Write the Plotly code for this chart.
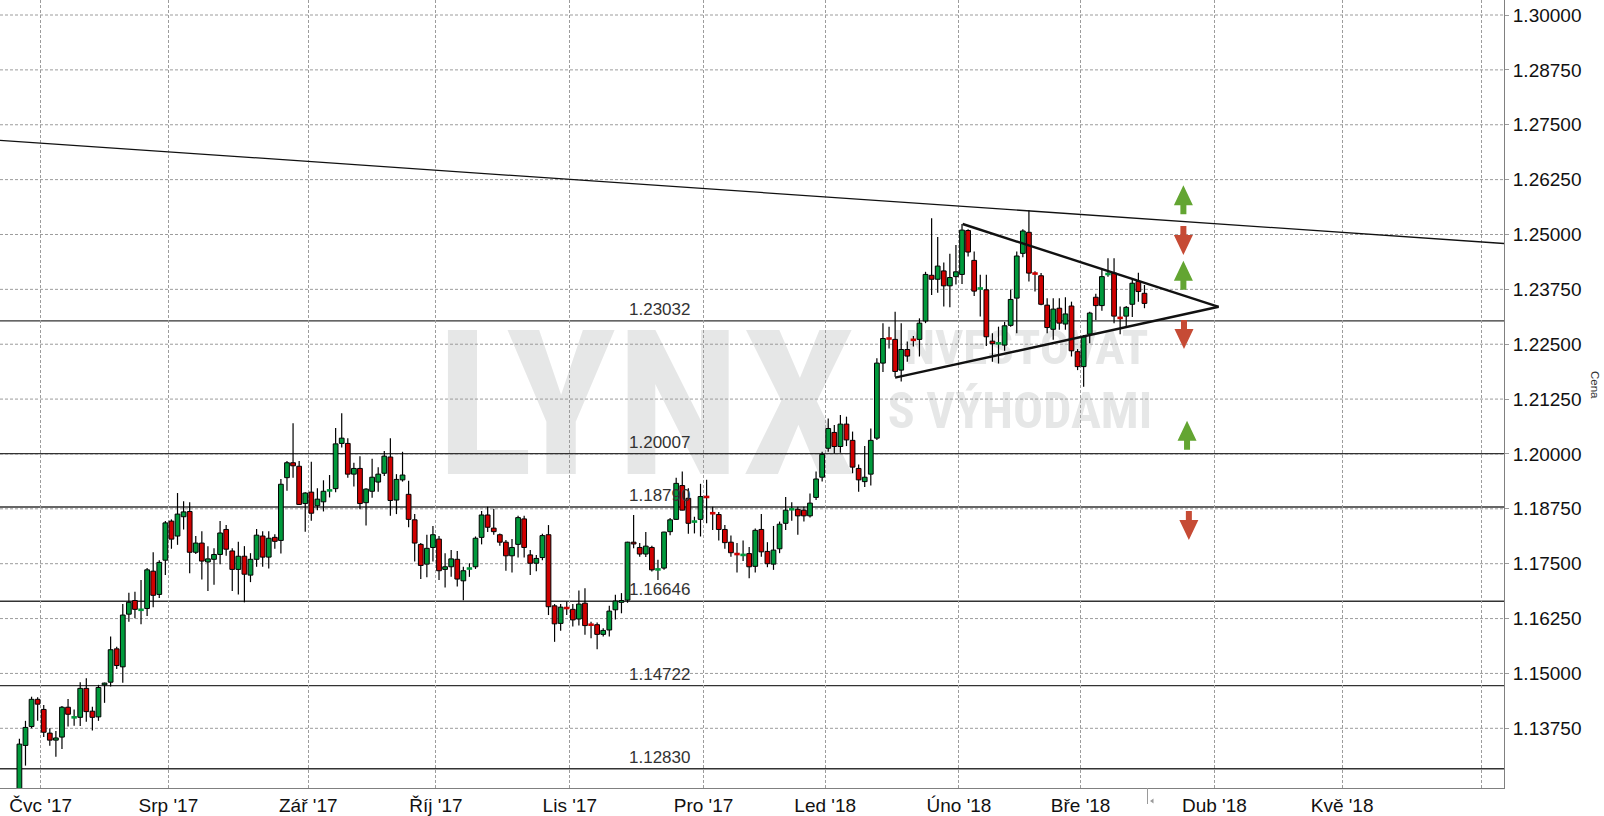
import numpy as np
import pandas as pd
import plotly.graph_objects as go

# ---------------- data (EUR/USD daily) ----------------
opens = [1.1182, 1.1336, 1.1379, 1.1441, 1.1418, 1.1364, 1.1348, 1.1355, 1.1423, 1.1399,
         1.1400, 1.1466, 1.1414, 1.1401, 1.1474, 1.1480, 1.1556, 1.1515, 1.1635, 1.1666,
         1.1644, 1.1648, 1.1733, 1.1680, 1.1758, 1.1847, 1.1813, 1.1857, 1.1869, 1.1776,
         1.1797, 1.1754, 1.1760, 1.1771, 1.1828, 1.1779, 1.1737, 1.1767, 1.1724, 1.1760,
         1.1813, 1.1765, 1.1810, 1.1803, 1.1946, 1.1980, 1.1972, 1.1887, 1.1913, 1.1882,
         1.1891, 1.1915, 1.1921, 1.2024, 1.2024, 1.1954, 1.1967, 1.1889, 1.1915, 1.1936,
         1.1956, 1.1993, 1.1895, 1.1941, 1.1908, 1.1850, 1.1794, 1.1749, 1.1787, 1.1806,
         1.1737, 1.1743, 1.1760, 1.1711, 1.1737, 1.1743, 1.1810, 1.1861, 1.1831, 1.1816,
         1.1799, 1.1768, 1.1794, 1.1852, 1.1770, 1.1751, 1.1764, 1.1816, 1.1654, 1.1614,
         1.1650, 1.1646, 1.1624, 1.1660, 1.1612, 1.1611, 1.1589, 1.1599, 1.1645, 1.1662,
         1.1667, 1.1799, 1.1787, 1.1772, 1.1787, 1.1736, 1.1740, 1.1823, 1.1851, 1.1928,
         1.1899, 1.1844, 1.1851, 1.1904, 1.1867, 1.1862, 1.1828, 1.1799, 1.1774, 1.1768,
         1.1773, 1.1744, 1.1828, 1.1778, 1.1749, 1.1784, 1.1842, 1.1872, 1.1874, 1.1872,
         1.1859, 1.1901, 1.1947, 1.2013, 1.2049, 1.2017, 1.2068, 1.2031, 1.1967, 1.1937,
         1.1954, 1.2036, 1.2207, 1.2265, 1.2261, 1.2191, 1.2238, 1.2262, 1.2261, 1.2303,
         1.2407, 1.2398, 1.2417, 1.2383, 1.2404, 1.2409, 1.2509, 1.2441, 1.2375, 1.2374,
         1.2257, 1.2251, 1.2248, 1.2293, 1.2355, 1.2457, 1.2505, 1.2412, 1.2406, 1.2339,
         1.2284, 1.2332, 1.2296, 1.2337, 1.2233, 1.2199, 1.2273, 1.2357, 1.2338, 1.2408,
         1.2412, 1.2311, 1.2314, 1.2341, 1.2393, 1.2366]
highs = [1.1351, 1.1392, 1.1447, 1.1446, 1.1428, 1.1375, 1.1369, 1.1426, 1.1442, 1.1418,
         1.1480, 1.1489, 1.1424, 1.1474, 1.1479, 1.1584, 1.1561, 1.1658, 1.1684, 1.1686,
         1.1713, 1.1740, 1.1776, 1.1758, 1.1847, 1.1851, 1.1911, 1.1892, 1.1890, 1.1813,
         1.1824, 1.1790, 1.1785, 1.1847, 1.1838, 1.1785, 1.1800, 1.1790, 1.1774, 1.1829,
         1.1824, 1.1824, 1.1817, 1.1943, 1.1984, 1.2070, 1.1984, 1.1913, 1.1982, 1.1922,
         1.1940, 1.1952, 1.2059, 1.2093, 1.2036, 1.1980, 1.1995, 1.1922, 1.1989, 1.1970,
         1.2007, 1.2036, 1.1954, 1.2005, 1.1939, 1.1863, 1.1797, 1.1816, 1.1836, 1.1813,
         1.1774, 1.1781, 1.1779, 1.1743, 1.1751, 1.1812, 1.1870, 1.1880, 1.1875, 1.1819,
         1.1804, 1.1806, 1.1859, 1.1859, 1.1781, 1.1770, 1.1818, 1.1838, 1.1658, 1.1658,
         1.1664, 1.1658, 1.1689, 1.1694, 1.1618, 1.1616, 1.1603, 1.1654, 1.1679, 1.1683,
         1.1800, 1.1861, 1.1797, 1.1822, 1.1791, 1.1759, 1.1823, 1.1854, 1.1946, 1.1960,
         1.1922, 1.1857, 1.1932, 1.1941, 1.1880, 1.1868, 1.1838, 1.1814, 1.1797, 1.1803,
         1.1788, 1.1830, 1.1863, 1.1799, 1.1836, 1.1846, 1.1902, 1.1890, 1.1880, 1.1880,
         1.1910, 1.1960, 1.2005, 1.2081, 1.2066, 1.2089, 1.2085, 1.2051, 1.1976, 1.2018,
         1.2058, 1.2218, 1.2298, 1.2290, 1.2324, 1.2298, 1.2256, 1.2269, 1.2309, 1.2415,
         1.2537, 1.2494, 1.2436, 1.2456, 1.2476, 1.2524, 1.2512, 1.2461, 1.2408, 1.2408,
         1.2275, 1.2290, 1.2301, 1.2374, 1.2461, 1.2512, 1.2556, 1.2416, 1.2412, 1.2355,
         1.2355, 1.2355, 1.2357, 1.2347, 1.2239, 1.2271, 1.2324, 1.2365, 1.2419, 1.2446,
         1.2446, 1.2336, 1.2337, 1.2400, 1.2413, 1.2385]
lows = [1.1175, 1.1290, 1.1375, 1.1392, 1.1355, 1.1335, 1.1310, 1.1328, 1.1379, 1.1381,
        1.1380, 1.1390, 1.1370, 1.1392, 1.1433, 1.1470, 1.1510, 1.1479, 1.1618, 1.1626,
        1.1612, 1.1631, 1.1651, 1.1672, 1.1724, 1.1784, 1.1793, 1.1828, 1.1728, 1.1772,
        1.1714, 1.1688, 1.1702, 1.1749, 1.1768, 1.1688, 1.1680, 1.1662, 1.1708, 1.1743,
        1.1743, 1.1739, 1.1784, 1.1773, 1.1916, 1.1946, 1.1884, 1.1823, 1.1848, 1.1872,
        1.1869, 1.1901, 1.1913, 1.2015, 1.1946, 1.1926, 1.1874, 1.1837, 1.1900, 1.1914,
        1.1950, 1.1859, 1.1863, 1.1937, 1.1833, 1.1755, 1.1715, 1.1719, 1.1755, 1.1713,
        1.1696, 1.1720, 1.1698, 1.1667, 1.1720, 1.1738, 1.1794, 1.1822, 1.1816, 1.1791,
        1.1734, 1.1730, 1.1764, 1.1764, 1.1724, 1.1733, 1.1758, 1.1633, 1.1572, 1.1597,
        1.1633, 1.1607, 1.1609, 1.1588, 1.1580, 1.1555, 1.1584, 1.1584, 1.1623, 1.1637,
        1.1661, 1.1785, 1.1766, 1.1765, 1.1732, 1.1713, 1.1736, 1.1815, 1.1850, 1.1871,
        1.1818, 1.1819, 1.1812, 1.1842, 1.1827, 1.1803, 1.1784, 1.1766, 1.1730, 1.1756,
        1.1717, 1.1730, 1.1766, 1.1742, 1.1736, 1.1774, 1.1827, 1.1848, 1.1816, 1.1846,
        1.1855, 1.1895, 1.1937, 1.2005, 1.2001, 1.2003, 1.2018, 1.1956, 1.1914, 1.1925,
        1.1928, 1.2032, 1.2187, 1.2240, 1.2176, 1.2165, 1.2210, 1.2245, 1.2222, 1.2298,
        1.2362, 1.2367, 1.2336, 1.2334, 1.2386, 1.2387, 1.2450, 1.2360, 1.2313, 1.2246,
        1.2210, 1.2206, 1.2235, 1.2290, 1.2275, 1.2448, 1.2393, 1.2370, 1.2339, 1.2275,
        1.2260, 1.2283, 1.2283, 1.2222, 1.2191, 1.2153, 1.2252, 1.2305, 1.2326, 1.2404,
        1.2298, 1.2273, 1.2291, 1.2312, 1.2347, 1.2332]
closes = [1.1339, 1.1377, 1.1441, 1.1430, 1.1366, 1.1348, 1.1353, 1.1423, 1.1407, 1.1400,
          1.1466, 1.1413, 1.1400, 1.1468, 1.1478, 1.1554, 1.1518, 1.1633, 1.1662, 1.1646,
          1.1645, 1.1736, 1.1678, 1.1753, 1.1843, 1.1806, 1.1863, 1.1868, 1.1776, 1.1797,
          1.1756, 1.1761, 1.1771, 1.1820, 1.1783, 1.1737, 1.1767, 1.1726, 1.1760, 1.1815,
          1.1765, 1.1808, 1.1801, 1.1931, 1.1980, 1.1973, 1.1885, 1.1911, 1.1865, 1.1897,
          1.1915, 1.1917, 1.2023, 1.2036, 1.1954, 1.1967, 1.1887, 1.1920, 1.1947, 1.1954,
          1.1995, 1.1894, 1.1942, 1.1952, 1.1851, 1.1797, 1.1746, 1.1785, 1.1816, 1.1734,
          1.1743, 1.1761, 1.1715, 1.1734, 1.1739, 1.1808, 1.1861, 1.1833, 1.1823, 1.1799,
          1.1768, 1.1787, 1.1855, 1.1787, 1.1751, 1.1762, 1.1814, 1.1652, 1.1613, 1.1651,
          1.1649, 1.1622, 1.1658, 1.1609, 1.1611, 1.1589, 1.1598, 1.1642, 1.1665, 1.1666,
          1.1799, 1.1795, 1.1772, 1.1790, 1.1736, 1.1737, 1.1822, 1.1850, 1.1933, 1.1872,
          1.1842, 1.1846, 1.1903, 1.1902, 1.1865, 1.1828, 1.1798, 1.1775, 1.1772, 1.1770,
          1.1743, 1.1826, 1.1777, 1.1750, 1.1781, 1.1840, 1.1872, 1.1874, 1.1859, 1.1859,
          1.1888, 1.1943, 1.1999, 1.2058, 1.2017, 1.2068, 1.2032, 1.1970, 1.1941, 1.1947,
          1.2031, 1.2207, 1.2263, 1.2263, 1.2188, 1.2238, 1.2223, 1.2260, 1.2298, 1.2409,
          1.2398, 1.2428, 1.2383, 1.2402, 1.2415, 1.2510, 1.2460, 1.2371, 1.2377, 1.2267,
          1.2251, 1.2252, 1.2292, 1.2352, 1.2451, 1.2508, 1.2412, 1.2411, 1.2341, 1.2288,
          1.2330, 1.2298, 1.2319, 1.2235, 1.2199, 1.2267, 1.2321, 1.2338, 1.2404, 1.2410,
          1.2314, 1.2310, 1.2334, 1.2389, 1.2370, 1.2343]

first_day = "2017-06-27"
last_calendar_day = "2018-06-08"
holidays = ["2017-12-25", "2018-01-01"]
month_labels = ["Čvc '17", "Srp '17", "Zář '17", "Říj '17", "Lis '17", "Pro '17",
                "Led '18", "Úno '18", "Bře '18", "Dub '18", "Kvě '18", ""]
levels = [1.23032, 1.20007, 1.18790, 1.16646, 1.14722, 1.12830]
y_ticks = [1.1375, 1.15, 1.1625, 1.175, 1.1875, 1.2, 1.2125, 1.225,
           1.2375, 1.25, 1.2625, 1.275, 1.2875, 1.3]
# drawn trend lines: (x0 index, price0, x1 index, price1)
trend_long = (-3.19, 1.27146, 244.12, 1.24795)
triangle_upper = (155.1, 1.25239, 197.2, 1.23353)
triangle_lower = (144.0, 1.21738, 197.2, 1.23353)
# signal arrows: (x index, price, direction)
arrows = [(191.4, 1.25793, "up"), (191.4, 1.24863, "down"), (191.4, 1.24071, "up"),
          (191.5, 1.22722, "down"), (192.0, 1.20426, "up"), (192.3, 1.18371, "down")]

# ---------------- derived ----------------
cal = pd.bdate_range(first_day, last_calendar_day)
cal = cal[~cal.isin(pd.to_datetime(holidays))]
n = len(opens)
xs = np.arange(n, dtype=float)
month_start = [i for i in range(1, len(cal)) if cal[i].month != cal[i - 1].month]
tickvals = [m - 0.5 for m in month_start]

o = np.array(opens); h = np.array(highs); l = np.array(lows); c = np.array(closes)
top = np.maximum(o, c); bot = np.minimum(o, c)
doji = np.abs(c - o) < 0.00025
up = c >= o

GREEN = "#009A3C"
RED = "#D00000"
FONT = "Liberation Sans, Arial, Helvetica, sans-serif"
GRID = "#9c9c9c"

fig = go.Figure()

# wicks
wx, wy = [], []
for i in range(n):
    if doji[i]:
        wx += [xs[i], xs[i], None]; wy += [h[i], l[i], None]
    else:
        wx += [xs[i], xs[i], None, xs[i], xs[i], None]
        wy += [h[i], top[i], None, bot[i], l[i], None]
fig.add_trace(go.Scatter(x=wx, y=wy, mode="lines", line=dict(color="black", width=1.2),
                         hoverinfo="skip"))

# bodies
nd = ~doji
fig.add_trace(go.Bar(x=xs[nd], y=(top - bot)[nd], base=bot[nd], width=0.78,
                     marker=dict(color=[GREEN if u else RED for u in up[nd]],
                                 line=dict(color="black", width=1)),
                     hoverinfo="skip"))

# doji dashes
for col, mask in ((GREEN, doji & up), (RED, doji & ~up)):
    dx, dy = [], []
    for i in np.where(mask)[0]:
        dx += [xs[i] - 0.45, xs[i] + 0.45, None]; dy += [c[i], c[i], None]
    fig.add_trace(go.Scatter(x=dx, y=dy, mode="lines", line=dict(color=col, width=2.6),
                             hoverinfo="skip"))

shapes = []
def pxx(v):
    return v / 1504.0
def pxy(v):
    return (788.0 - v) / 788.0

# watermark (below grid)
WM = "#E6E7E7"
WMFONT = "Roboto Condensed, Liberation Sans Narrow, Noto Sans Condensed, DejaVu Sans Condensed, Arial Narrow, Roboto, sans-serif"
for txt, (x0, x1, y0, y1), size in (("LYNX", (436, 856, 305, 475), 203),
                                     ("INVESTOVAT", (880, 1160, 320, 366), 49),
                                     ("S VÝHODAMI", (880, 1160, 381, 433), 50)):
    shapes.append(dict(type="rect", xref="paper", yref="paper", x0=pxx(x0), x1=pxx(x1),
                       y0=pxy(y1), y1=pxy(y0), line=dict(width=0), fillcolor="rgba(0,0,0,0)",
                       layer="below",
                       label=dict(text=txt, textposition="middle center",
                                  font=dict(family=WMFONT, size=size, color=WM, weight="bold"))))

# horizontal price gridlines (dashed), drawn over the watermark
for t in y_ticks:
    shapes.append(dict(type="line", xref="paper", yref="y", x0=0, x1=1, y0=t, y1=t,
                       line=dict(color=GRID, width=1, dash="3px,2px"), layer="below"))

# horizontal levels
for lv in levels:
    shapes.append(dict(type="line", xref="paper", yref="y", x0=0, x1=1, y0=lv, y1=lv,
                       line=dict(color="#333333", width=1.4), layer="between"))

# trend lines
for (x0, y0, x1, y1), w in ((trend_long, 1.3), (triangle_upper, 2.4), (triangle_lower, 2.4)):
    shapes.append(dict(type="line", xref="x", yref="y", x0=x0, y0=y0, x1=x1, y1=y1,
                       line=dict(color="#111111", width=w), layer="above"))

# arrows
UP_PATH = "M 0,14.5 L 9.5,-5.5 L 3,-5.5 L 3,-14.5 L -3,-14.5 L -3,-5.5 L -9.5,-5.5 Z"
DN_PATH = "M 0,-14.5 L 9.5,5.5 L 3,5.5 L 3,14.5 L -3,14.5 L -3,5.5 L -9.5,5.5 Z"
for ax_, ay_, d in arrows:
    shapes.append(dict(type="path", xref="x", yref="y", xsizemode="pixel", ysizemode="pixel",
                       xanchor=ax_, yanchor=ay_, path=UP_PATH if d == "up" else DN_PATH,
                       fillcolor="#63A532" if d == "up" else "#C64B35",
                       line=dict(width=0), layer="above"))

# "now" marker under the axis
shapes.append(dict(type="line", xref="x", yref="paper", x0=n - 0.5, x1=n - 0.5,
                   y0=0, y1=-16 / 788, line=dict(color="#9a9a9a", width=1)))
shapes.append(dict(type="path", xref="x", yref="paper", xsizemode="pixel", ysizemode="pixel",
                   xanchor=n - 0.5, yanchor=0, path="M 2.5,-13 L 6,-10.5 L 6,-15.5 Z",
                   fillcolor="#9a9a9a", line=dict(width=0)))

annotations = []
for lv in levels:
    annotations.append(dict(x=105.2, y=lv, xref="x", yref="y", text=f"{lv:.5f}",
                            showarrow=False, xanchor="center", yanchor="bottom", yshift=0,
                            font=dict(family=FONT, size=17, color="#333333")))
annotations.append(dict(x=1595 / 1504, y=(788 - 385) / 788, xref="paper", yref="paper",
                        text="Cena", showarrow=False, textangle=90,
                        xanchor="center", yanchor="middle",
                        font=dict(family=FONT, size=11.5, color="#333333")))

fig.update_layout(
    width=1604, height=816,
    margin=dict(l=0, r=100, t=0, b=28, autoexpand=False),
    paper_bgcolor="white", plot_bgcolor="white",
    showlegend=False, barmode="overlay", hovermode=False,
    shapes=shapes, annotations=annotations,
    xaxis=dict(range=[-3.19, 244.12], tickmode="array", tickvals=tickvals, ticktext=month_labels,
               showgrid=True, gridcolor=GRID, gridwidth=1, griddash="3px,2px",
               showline=True, linecolor="#808080", linewidth=1, ticks="", zeroline=False,
               tickfont=dict(family=FONT, size=19, color="#111111"), automargin=False),
    yaxis=dict(side="right", range=[1.12390, 1.30342], tickmode="array", tickvals=y_ticks,
               ticktext=[f"{v:.5f}" for v in y_ticks],
               showgrid=False,
               showline=True, linecolor="#808080", linewidth=1,
               ticks="outside", ticklen=4, tickcolor="#9c9c9c", zeroline=False,
               tickfont=dict(family=FONT, size=19, color="#111111"), automargin=False),
)

fig.write_html("out.html", config={"displayModeBar": False},
               post_script="document.body.style.margin='0';document.body.style.padding='0';")
